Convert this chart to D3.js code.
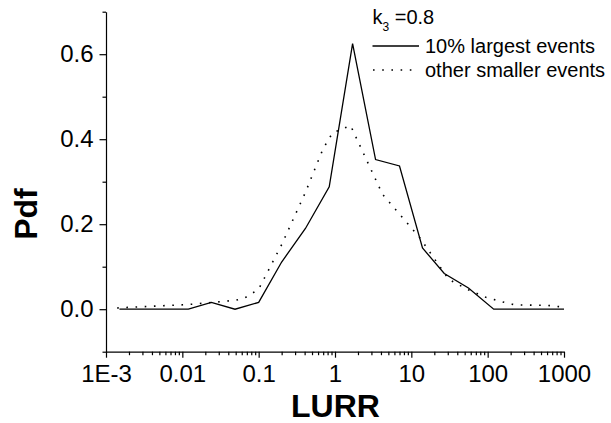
<!DOCTYPE html>
<html>
<head>
<meta charset="utf-8">
<script src="https://cdn.jsdelivr.net/npm/d3@7"></script>
<style>
  body { margin: 0; background: #fff; }
  svg text { font-family: Arial, "Liberation Sans", Helvetica, sans-serif; fill: #000; }
</style>
</head>
<body>
<svg id="chart" width="611" height="423"></svg>
<script>
// Data
const largestX = [0.0015, 0.012, 0.024, 0.049, 0.1, 0.2, 0.41, 0.84, 1.7, 3.4, 7.0, 14, 27, 56, 120, 1000];
const largestY = [0, 0, 0.016, 0, 0.016, 0.111, 0.19, 0.288, 0.625, 0.352, 0.337, 0.144, 0.084, 0.05, 0, 0];

const smallerX = [0.0014, 0.012, 0.05, 0.065, 0.1, 0.2, 0.41, 0.7, 0.93, 1.6, 4.2, 12.8, 31, 55, 95, 200, 250, 600, 1000];
const smallerY = [0.003, 0.011, 0.021, 0.026, 0.047, 0.152, 0.275, 0.378, 0.415, 0.432, 0.27, 0.169, 0.07, 0.046, 0.028, 0.012, 0.01, 0.009, 0.005];

const xTicks = [1e-3, 0.01, 0.1, 1, 10, 100, 1000];
const xTickLabels = ['1E-3', '0.01', '0.1', '1', '10', '100', '1000'];
const yTicks = [0.0, 0.2, 0.4, 0.6];
const yMinorTicks = [-0.1, 0.1, 0.3, 0.5, 0.7];

const svg = d3.select('#chart');

const x = d3.scaleLog().domain([1e-3, 1e3]).range([106, 564]);
const y = d3.scaleLinear().domain([-0.1, 0.7]).range([351.7, 11.7]);

// minor log ticks 2..9 per decade
const xMinor = [];
for (let d = -3; d < 3; d++) {
    for (let m = 2; m <= 9; m++) xMinor.push(m * Math.pow(10, d));
}

// x axis
const xAxisG = svg.append('g')
    .attr('transform', `translate(0,${y(-0.1)})`)
    .call(d3.axisBottom(x)
        .tickValues(xTicks)
        .tickFormat((d, i) => xTickLabels[i])
        .tickSize(6)
        .tickSizeOuter(0)
        .tickPadding(7));
svg.append('g')
    .attr('transform', `translate(0,${y(-0.1)})`)
    .call(d3.axisBottom(x).tickValues(xMinor).tickFormat('').tickSize(3.5).tickSizeOuter(0))
    .select('.domain').remove();

// y axis
const yAxisG = svg.append('g')
    .attr('transform', `translate(${x(1e-3)},0)`)
    .call(d3.axisLeft(y)
        .tickValues(yTicks)
        .tickFormat(d3.format('.1f'))
        .tickSize(6.5)
        .tickSizeOuter(0)
        .tickPadding(6));
svg.append('g')
    .attr('transform', `translate(${x(1e-3)},0)`)
    .call(d3.axisLeft(y).tickValues(yMinorTicks).tickFormat('').tickSize(3.5).tickSizeOuter(0))
    .select('.domain').remove();

svg.selectAll('.domain, .tick line')
    .attr('stroke', '#000')
    .attr('stroke-width', 1.2);
svg.selectAll('.tick text')
    .style('font-size', '24px')
    .attr('fill', '#000');

// lines
const line = d3.line()
    .x(d => x(d[0]))
    .y(d => y(d[1]));

svg.append('path')
    .datum(d3.zip(largestX, largestY))
    .attr('d', line)
    .attr('fill', 'none')
    .attr('stroke', '#000')
    .attr('stroke-width', 1.3);

svg.append('path')
    .datum(d3.zip(smallerX, smallerY))
    .attr('d', line)
    .attr('fill', 'none')
    .attr('stroke', '#000')
    .attr('stroke-width', 1.6)
    .attr('stroke-dasharray', '1.6,7.6');

// axis titles
svg.append('text')
    .attr('x', 335.5)
    .attr('y', 416.5)
    .attr('text-anchor', 'middle')
    .style('font-size', '32px')
    .style('font-weight', 'bold')
    .text('LURR');

svg.append('text')
    .attr('transform', 'translate(36.5,214) rotate(-90)')
    .attr('text-anchor', 'middle')
    .style('font-size', '32px')
    .style('font-weight', 'bold')
    .text('Pdf');

// legend
const k = svg.append('text')
    .attr('x', 372.5)
    .attr('y', 24)
    .style('font-size', '20px');
k.append('tspan').text('k');
k.append('tspan').attr('dy', 7).style('font-size', '12px').text('3');
k.append('tspan').attr('dy', -7).text(' =0.8');

svg.append('line')
    .attr('x1', 372.5).attr('x2', 419)
    .attr('y1', 46).attr('y2', 46)
    .attr('stroke', '#000').attr('stroke-width', 1.3);
svg.append('text')
    .attr('x', 425).attr('y', 53)
    .style('font-size', '20px')
    .text('10% largest events');

svg.append('line')
    .attr('x1', 373).attr('x2', 419)
    .attr('y1', 70).attr('y2', 70)
    .attr('stroke', '#000').attr('stroke-width', 1.6)
    .attr('stroke-dasharray', '1.6,7.6');
svg.append('text')
    .attr('x', 425).attr('y', 77)
    .style('font-size', '20px')
    .text('other smaller events');
</script>
</body>
</html>
